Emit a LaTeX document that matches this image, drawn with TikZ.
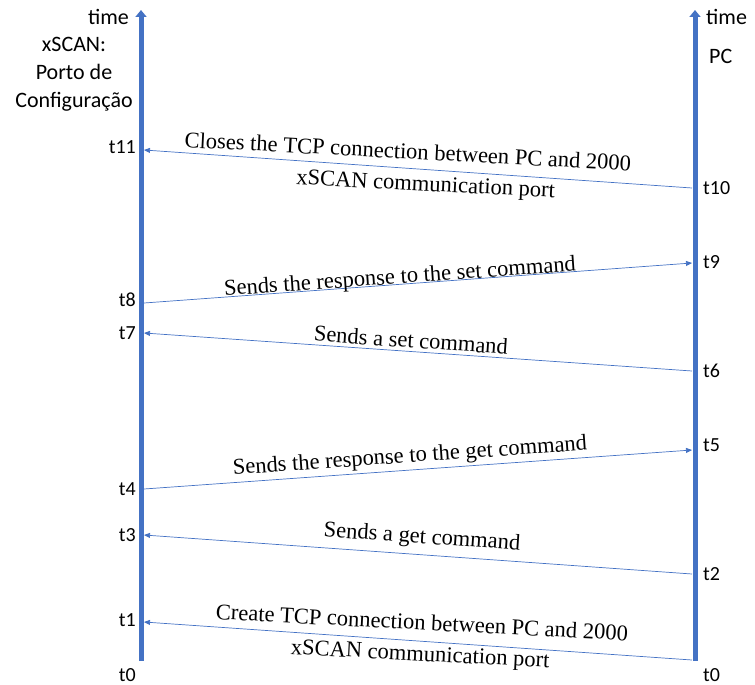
\documentclass[tikz,border=0pt]{standalone}
\usepackage{fontspec}
\setmainfont{Liberation Serif}
\newfontfamily\calib{Carlito}
\usetikzlibrary{arrows.meta}
\definecolor{axisblue}{HTML}{4472C4}
\tikzset{
  axis/.style={line width=5pt, draw=axisblue, -{Triangle[length=7pt,width=11pt]}},
  msg/.style={line width=0.7pt, draw=axisblue, -{Triangle[length=6pt,width=5pt]}},
  tlab/.style={font=\calib\fontsize{20}{24}\selectfont, inner sep=0pt},
  headlab/.style={font=\calib\fontsize{22}{28}\selectfont, inner sep=0pt},
  msglab/.style={font=\fontsize{22.5}{27}\selectfont, inner sep=0pt},
  msgpair/.style={font=\fontsize{22.5}{31}\selectfont, inner sep=0pt, align=center},
}
\begin{document}
\begin{tikzpicture}[x=1pt,y=-1pt]
\useasboundingbox (0,0) rectangle (755,685);

% lifelines
\coordinate (Lbot) at (141,661);
\coordinate (Ltop) at (141,10);
\coordinate (Rbot) at (695,661);
\coordinate (Rtop) at (695,10);
\draw[axis] (Lbot) -- (Ltop);
\draw[axis] (Rbot) -- (Rtop);

% headers
\node[headlab, anchor=east] (timeL) at (129,17) {time};
\node[headlab, anchor=west] (timeR) at (706,17) {time};
\node[headlab, align=center] (xscan) at (74,74) {xSCAN:\\Porto de\\Configuração};
\node[headlab, anchor=west] (pc) at (709,56) {PC};

% event points on the lifelines
\coordinate (p11) at (144,150);
\coordinate (p10) at (692,188);
\coordinate (p8)  at (144,303);
\coordinate (p9)  at (692,263);
\coordinate (p7)  at (144,333);
\coordinate (p6)  at (692,371);
\coordinate (p4)  at (144,489);
\coordinate (p5)  at (692,450);
\coordinate (p3)  at (144,535);
\coordinate (p2)  at (692,574);
\coordinate (p1)  at (144,622);
\coordinate (p0)  at (692,660);

% time labels
\node[tlab, anchor=east] (t11) at (136,147) {t11};
\node[tlab, anchor=east] (t8)  at (136,300) {t8};
\node[tlab, anchor=east] (t7)  at (136,333) {t7};
\node[tlab, anchor=east] (t4)  at (136,489) {t4};
\node[tlab, anchor=east] (t3)  at (136,535) {t3};
\node[tlab, anchor=east] (t1)  at (136,620) {t1};
\node[tlab, anchor=east] (t0L) at (136,675) {t0};
\node[tlab, anchor=west] (t10) at (703,188) {t10};
\node[tlab, anchor=west] (t9)  at (703,262) {t9};
\node[tlab, anchor=west] (t6)  at (703,371) {t6};
\node[tlab, anchor=west] (t5)  at (703,445) {t5};
\node[tlab, anchor=west] (t2)  at (703,574) {t2};
\node[tlab, anchor=west] (t0R) at (703,675) {t0};

% messages
\draw[msg] (p10) -- (p11);
\draw[msg] (p8) -- (p9);
\draw[msg] (p6) -- (p7);
\draw[msg] (p4) -- (p5);
\draw[msg] (p2) -- (p3);
\draw[msg] (p0) -- (p1);

% message texts
\node[msgpair, rotate=-3] (m11) at (407,169)
  {Closes the TCP connection between PC and 2000\\\hspace*{39pt}xSCAN communication port};
\node[msglab, rotate=4]  (m9) at (400,278) {Sends the response to the set command};
\node[msglab, rotate=-4] (m7) at (411,340) {Sends a set command};
\node[msglab, rotate=4]  (m5) at (410,457) {Sends the response to the get command};
\node[msglab, rotate=-4] (m3) at (422,538) {Sends a get command};
\node[msgpair, rotate=-3] (m1) at (421,640)
  {Create TCP connection between PC and 2000\\xSCAN communication port};
\end{tikzpicture}
\end{document}
